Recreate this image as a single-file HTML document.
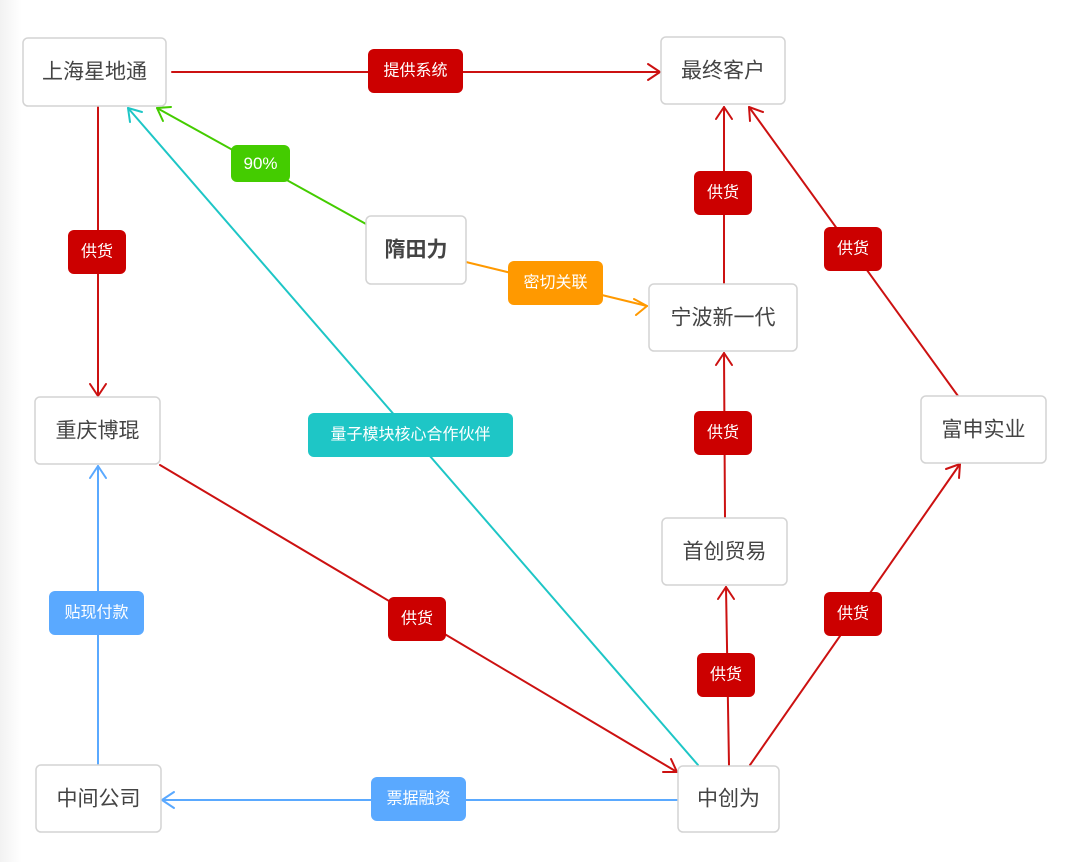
<!DOCTYPE html>
<html><head><meta charset="utf-8"><style>
html,body{margin:0;padding:0;background:#fff;}
svg{display:block;}
text{font-family:"Liberation Sans","Noto Sans CJK SC",sans-serif;}
</style></head><body>
<svg width="1080" height="862" viewBox="0 0 1080 862" xmlns="http://www.w3.org/2000/svg">
<defs>
<linearGradient id="bg" x1="0" x2="1" y1="0" y2="0">
<stop offset="0" stop-color="#f2f2f2"/><stop offset="0.02" stop-color="#fff"/>
</linearGradient>
</defs>
<rect width="1080" height="862" fill="url(#bg)"/>
<g fill="none" stroke-width="2" stroke-linecap="round" stroke-linejoin="round">
<g stroke="#cc1111">
<line x1="172" y1="72" x2="660" y2="72"/><polyline points="648,64 660,72 648,80"/>
<line x1="98" y1="106" x2="98" y2="396"/><polyline points="90,384 98,396 106,384"/>
<line x1="724" y1="284" x2="724" y2="107"/><polyline points="716,119 724,107 732,119"/>
<line x1="958" y1="396" x2="749" y2="107"/><polyline points="750,121 749,107 763,112"/>
<line x1="725" y1="518" x2="724" y2="353"/><polyline points="716,365 724,353 732,365"/>
<line x1="729" y1="765" x2="726" y2="587"/><polyline points="718,599 726,587 734,599"/>
<line x1="750" y1="765" x2="960" y2="464"/><polyline points="946,469 960,464 959,478"/>
<line x1="160" y1="465" x2="677" y2="772"/><polyline points="663,772 677,772 671,759"/>
</g>
<g stroke="#44cc00"><line x1="366" y1="224" x2="157" y2="108"/><polyline points="163,121 157,108 171,107"/></g>
<g stroke="#1ec6c6"><line x1="698" y1="765" x2="128" y2="108"/><polyline points="130,122 128,108 142,112"/></g>
<g stroke="#ff9900"><line x1="466" y1="262" x2="647" y2="306"/><polyline points="634,299 647,306 636,315"/></g>
<g stroke="#5aa9ff">
<line x1="678" y1="800" x2="162" y2="800"/><polyline points="174,792 162,800 174,808"/>
<line x1="98" y1="765" x2="98" y2="466"/><polyline points="90,478 98,466 106,478"/>
</g>
</g>
<g fill="#fff" stroke="#d4d4d4" stroke-width="1.5">
<rect x="23" y="38" width="143" height="68" rx="5"/>
<rect x="661" y="37" width="124" height="67" rx="5"/>
<rect x="366" y="216" width="100" height="68" rx="5"/>
<rect x="649" y="284" width="148" height="67" rx="5"/>
<rect x="35" y="397" width="125" height="67" rx="5"/>
<rect x="921" y="396" width="125" height="67" rx="5"/>
<rect x="662" y="518" width="125" height="67" rx="5"/>
<rect x="36" y="765" width="125" height="67" rx="5"/>
<rect x="678" y="766" width="101" height="66" rx="5"/>
</g>
<g fill="#444" font-size="21" text-anchor="middle" dominant-baseline="central">
<text x="94.5" y="72">上海星地通</text>
<text x="723" y="71">最终客户</text>
<text x="416" y="250" font-weight="bold">隋田力</text>
<text x="723" y="318">宁波新一代</text>
<text x="97.5" y="431">重庆博琨</text>
<text x="983.5" y="430">富申实业</text>
<text x="724.5" y="552">首创贸易</text>
<text x="98.5" y="799">中间公司</text>
<text x="728.5" y="799">中创为</text>
</g>
<g>
<rect x="368" y="49" width="95" height="44" rx="6" fill="#cc0000"/>
<rect x="231" y="145" width="59" height="37" rx="6" fill="#44cc00"/>
<rect x="68" y="230" width="58" height="44" rx="6" fill="#cc0000"/>
<rect x="508" y="261" width="95" height="44" rx="6" fill="#ff9900"/>
<rect x="694" y="171" width="58" height="44" rx="6" fill="#cc0000"/>
<rect x="824" y="227" width="58" height="44" rx="6" fill="#cc0000"/>
<rect x="308" y="413" width="205" height="44" rx="6" fill="#1ec6c6"/>
<rect x="694" y="411" width="58" height="44" rx="6" fill="#cc0000"/>
<rect x="49" y="591" width="95" height="44" rx="6" fill="#5aa9ff"/>
<rect x="388" y="597" width="58" height="44" rx="6" fill="#cc0000"/>
<rect x="824" y="592" width="58" height="44" rx="6" fill="#cc0000"/>
<rect x="697" y="653" width="58" height="44" rx="6" fill="#cc0000"/>
<rect x="371" y="777" width="95" height="44" rx="6" fill="#5aa9ff"/>
</g>
<g fill="#fff" font-size="16" text-anchor="middle" dominant-baseline="central">
<text x="415.5" y="71">提供系统</text>
<text x="260.5" y="163.5" font-size="17">90%</text>
<text x="97" y="252">供货</text>
<text x="555.5" y="283">密切关联</text>
<text x="723" y="193">供货</text>
<text x="853" y="249">供货</text>
<text x="410.5" y="435">量子模块核心合作伙伴</text>
<text x="723" y="433">供货</text>
<text x="96.5" y="613">贴现付款</text>
<text x="417" y="619">供货</text>
<text x="853" y="614">供货</text>
<text x="726" y="675">供货</text>
<text x="418.5" y="799">票据融资</text>
</g>
</svg>
</body></html>
